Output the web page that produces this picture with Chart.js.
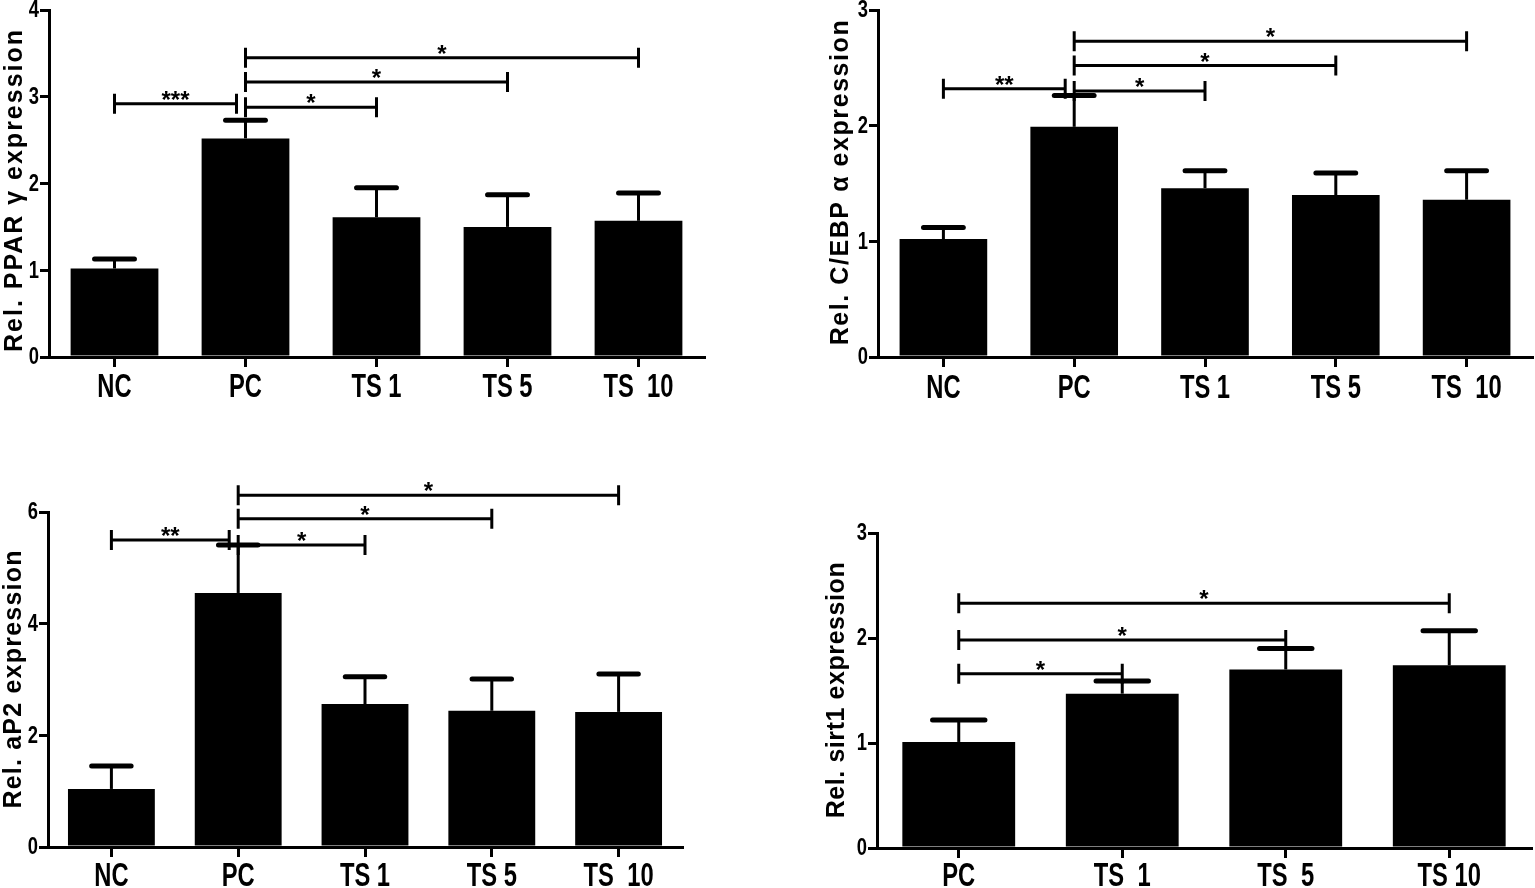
<!DOCTYPE html>
<html>
<head>
<meta charset="utf-8">
<title>Relative expression</title>
<script src="https://cdn.jsdelivr.net/npm/chart.js@4.4.1/dist/chart.umd.min.js"></script>
<style>
  html, body { margin: 0; padding: 0; background: #fff; }
  body { width: 1535px; height: 888px; position: relative; overflow: hidden; }
  .panel { position: absolute; }
</style>
</head>
<body>
<div class="panel" style="left:0;top:0;width:720px;height:410px"><canvas id="pparChart"></canvas></div>
<div class="panel" style="left:800px;top:0;width:735px;height:410px"><canvas id="cebpChart"></canvas></div>
<div class="panel" style="left:0;top:450px;width:720px;height:438px"><canvas id="ap2Chart"></canvas></div>
<div class="panel" style="left:800px;top:450px;width:735px;height:438px"><canvas id="sirtChart"></canvas></div>
<script>
// ── Data ──
const groups5 = ["NC", "PC", "TS 1", "TS 5", "TS  10"];
const groups4 = ["PC", "TS  1", "TS  5", "TS 10"];

const pparMean = [1.02, 2.52, 1.61, 1.50, 1.57];
const pparSem  = [0.11, 0.21, 0.34, 0.37, 0.32];
const pparTicks = [0, 1, 2, 3, 4];
// [from group, to group, bracket height, label]
const pparSig = [[0, 1, 2.92, "***"], [1, 2, 2.88, "*"], [1, 3, 3.17, "*"], [1, 4, 3.45, "*"]];

const cebpMean = [1.02, 1.99, 1.46, 1.40, 1.36];
const cebpSem  = [0.10, 0.27, 0.15, 0.19, 0.25];
const cebpTicks = [0, 1, 2, 3];
const cebpSig = [[0, 1, 2.32, "**"], [1, 2, 2.30, "*"], [1, 3, 2.52, "*"], [1, 4, 2.73, "*"]];

const ap2Mean = [1.04, 4.55, 2.56, 2.44, 2.42];
const ap2Sem  = [0.41, 0.86, 0.49, 0.57, 0.68];
const ap2Ticks = [0, 2, 4, 6];
const ap2Sig = [[0, 1, 5.50, "**"], [1, 2, 5.41, "*"], [1, 3, 5.88, "*"], [1, 4, 6.30, "*"]];

const sirtMean = [1.01, 1.47, 1.70, 1.74];
const sirtSem  = [0.21, 0.12, 0.20, 0.33];
const sirtTicks = [0, 1, 2, 3];
const sirtSig = [[0, 1, 1.66, "*"], [0, 2, 1.98, "*"], [0, 3, 2.33, "*"]];

const SANS = "'Liberation Sans', Arial, sans-serif";

// condensed bold text (no narrow font installed, so squeeze Arial-like glyphs)
function narrowText(ctx, text, x, y, size, squeeze, align, baseline) {
    ctx.save();
    ctx.font = "bold " + size + "px " + SANS;
    ctx.textAlign = align;
    ctx.textBaseline = baseline;
    ctx.translate(x, y);
    ctx.scale(squeeze, 1);
    ctx.fillText(text, 0, 0);
    ctx.restore();
}

// tick labels, error bars (upper only), significance brackets and the spaced-out y title
function marksPlugin(sem, sig, title, look) {
    return {
        id: "marks",
        afterDraw(chart) {
            const { ctx, scales: { x, y } } = chart;
            const bars = chart.getDatasetMeta(0).data;
            const means = chart.data.datasets[0].data;
            ctx.save();
            ctx.strokeStyle = "#000";
            ctx.fillStyle = "#000";

            // axis labels, placed by the scales
            x.ticks.forEach((t, i) => {
                narrowText(ctx, x.getLabelForValue(t.value), x.getPixelForTick(i),
                    x.top + look.xBase, 33, 0.72, "center", "alphabetic");
            });
            y.ticks.forEach((t, i) => {
                narrowText(ctx, String(t.value), y.right - 10, y.getPixelForTick(i) + 1,
                    23, 0.8, "right", "middle");
            });

            sem.forEach((s, i) => {
                const b = bars[i];
                const top = y.getPixelForValue(means[i] + s);
                ctx.lineWidth = 3;
                ctx.lineCap = "butt";
                ctx.beginPath();
                ctx.moveTo(b.x, b.y);
                ctx.lineTo(b.x, top);
                ctx.stroke();
                const half = b.width * 0.25 - 2;
                ctx.lineWidth = 5;
                ctx.lineCap = "round";
                ctx.beginPath();
                ctx.moveTo(b.x - half, top);
                ctx.lineTo(b.x + half, top);
                ctx.stroke();
            });

            ctx.lineCap = "butt";
            ctx.lineWidth = 3;
            ctx.font = "bold 24px " + SANS;
            ctx.textAlign = "center";
            ctx.textBaseline = "alphabetic";
            sig.forEach(([a, b, v, label]) => {
                const x1 = x.getPixelForValue(a);
                let x2 = x.getPixelForValue(b);
                if (sig.some(s => s[0] === b)) x2 -= 9;
                const yy = y.getPixelForValue(v);
                ctx.beginPath();
                ctx.moveTo(x1, yy); ctx.lineTo(x2, yy);
                ctx.moveTo(x1, yy - 10); ctx.lineTo(x1, yy + 10);
                ctx.moveTo(x2, yy - 10); ctx.lineTo(x2, yy + 10);
                ctx.stroke();
                ctx.fillText(label, (x1 + x2) / 2, yy + 4);
            });

            // y axis title
            ctx.font = "bold 25px " + SANS;
            ctx.letterSpacing = "0px";
            const natural = ctx.measureText(title).width;
            ctx.letterSpacing = ((look.titleLen - natural) / (title.length - 1)).toFixed(2) + "px";
            ctx.translate(look.titleX, look.titleY);
            ctx.rotate(-Math.PI / 2);
            ctx.textBaseline = "middle";
            ctx.fillText(title, 0, 0);
            ctx.restore();
        }
    };
}

function makeChart(id, labels, means, sem, ticks, sig, title, look) {
    new Chart(document.getElementById(id), {
        type: "bar",
        data: {
            labels: labels,
            datasets: [{
                data: means,
                backgroundColor: "#000",
                borderWidth: 0,
                barPercentage: look.barPct,
                categoryPercentage: 1
            }]
        },
        options: {
            responsive: true,
            maintainAspectRatio: false,
            animation: false,
            layout: {
                autoPadding: false,
                padding: { top: look.top, right: look.right, left: 0, bottom: 0 }
            },
            plugins: { legend: { display: false }, tooltip: { enabled: false } },
            scales: {
                x: {
                    offset: true,
                    grid: { display: true, drawOnChartArea: false, offset: false, tickLength: 10, lineWidth: 3, color: "#000" },
                    border: { display: true, width: 3, color: "#000" },
                    ticks: { display: false, autoSkip: false },
                    afterFit: s => { s.height = look.xHeight; s.paddingLeft = 0; s.paddingRight = 0; }
                },
                y: {
                    min: ticks[0],
                    max: ticks[ticks.length - 1],
                    afterBuildTicks: s => { s.ticks = ticks.map(v => ({ value: v })); },
                    grid: { display: true, drawOnChartArea: false, tickLength: 9, lineWidth: 3, color: "#000" },
                    border: { display: true, width: 3, color: "#000" },
                    ticks: { display: false },
                    afterFit: s => { s.width = look.yWidth; s.paddingTop = 0; s.paddingBottom = 0; }
                }
            }
        },
        plugins: [marksPlugin(sem, sig, title, look)]
    });
}

makeChart("pparChart", groups5, pparMean, pparSem, pparTicks, pparSig, "Rel. PPAR \u03b3 expression",
    { top: 10, right: 16, yWidth: 49, xHeight: 53, xBase: 40, barPct: 0.67, titleX: 15, titleY: 190, titleLen: 322 });
makeChart("cebpChart", groups5, cebpMean, cebpSem, cebpTicks, cebpSig, "Rel. C/EBP \u03b1 expression",
    { top: 10, right: 3, yWidth: 78, xHeight: 53, xBase: 41, barPct: 0.67, titleX: 41, titleY: 182, titleLen: 325 });
makeChart("ap2Chart", groups5, ap2Mean, ap2Sem, ap2Ticks, ap2Sig, "Rel. aP2 expression",
    { top: 62, right: 38, yWidth: 48, xHeight: 41, xBase: 39, barPct: 0.685, titleX: 14, titleY: 229, titleLen: 258 });
makeChart("sirtChart", groups4, sirtMean, sirtSem, sirtTicks, sirtSig, "Rel. sirt1 expression",
    { top: 83, right: 4, yWidth: 77, xHeight: 40, xBase: 38, barPct: 0.69, titleX: 37, titleY: 240, titleLen: 256 });
</script>
</body>
</html>
